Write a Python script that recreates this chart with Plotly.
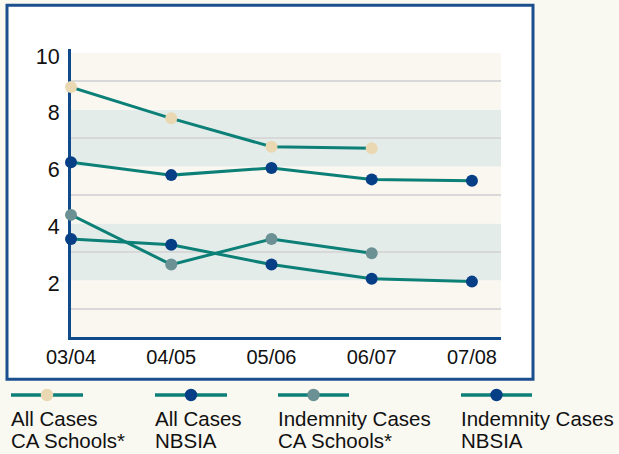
import plotly.graph_objects as go

# School years on the x axis
years = ["03/04", "04/05", "05/06", "06/07", "07/08"]

# Rates per series (CA Schools has no 07/08 value)
all_cases_ca = [8.8, 7.7, 6.7, 6.65, None]
all_cases_nbsia = [6.15, 5.7, 5.95, 5.55, 5.5]
indemnity_ca = [4.3, 2.55, 3.45, 2.95, None]
indemnity_nbsia = [3.45, 3.25, 2.55, 2.05, 1.95]

y_ticks = [2, 4, 6, 8, 10]

series_names = [
    ("All Cases", "CA Schools*"),
    ("All Cases", "NBSIA"),
    ("Indemnity Cases", "CA Schools*"),
    ("Indemnity Cases", "NBSIA"),
]

W, H = 619, 454
PAGE_BG = "#f9f8f1"
CREAM = "#f9f7f0"
BAND = "#e4ecea"
GRID = "#d8d8d8"
TEAL = "#0c8077"
NAVY = "#063f86"
BEIGE = "#e9d8b1"
SLATE = "#6b9194"
AXIS_BLUE = "#0f4a8d"
FRAME_BLUE = "#1b4f8e"
FONT = "Liberation Sans, Arial, Helvetica, sans-serif"

series = [
    (all_cases_ca, BEIGE),
    (all_cases_nbsia, NAVY),
    (indemnity_ca, SLATE),
    (indemnity_nbsia, NAVY),
]

xi = list(range(len(years)))

fig = go.Figure()
for (vals, mcolor), name in zip(series, series_names):
    fig.add_trace(go.Scatter(
        x=xi, y=vals, mode="lines+markers",
        name=" ".join(name),
        line=dict(color=TEAL, width=3),
        marker=dict(color=mcolor, size=12),
        cliponaxis=False,
        connectgaps=False,
        showlegend=False,
    ))


def px_x(p):
    return p / W


def px_y(p):
    return 1 - p / H


shapes = []
# white framed panel behind the chart
shapes.append(dict(
    type="rect", xref="paper", yref="paper",
    x0=px_x(7), x1=px_x(533), y0=px_y(379.3), y1=px_y(5.3),
    fillcolor="white", line=dict(color=FRAME_BLUE, width=3), layer="below",
))
# alternating horizontal bands every 2 units
for lo in range(0, 10, 2):
    shapes.append(dict(
        type="rect", xref="x domain", yref="y",
        x0=0, x1=1, y0=lo, y1=lo + 2,
        fillcolor=BAND if (lo // 2) % 2 == 1 else CREAM,
        line=dict(width=0), layer="below",
    ))
# small overshoot of the vertical axis above the plot area
shapes.append(dict(
    type="line", xref="paper", yref="paper",
    x0=px_x(69.5), x1=px_x(69.5), y0=px_y(54), y1=px_y(49),
    line=dict(color=AXIS_BLUE, width=3),
))

annotations = []
# custom legend: line with marker above two lines of text
legend_x = [(11, 83), (155, 227), (278, 349), (461, 532)]
for (x0, x1), (vals, mcolor), (l1, l2) in zip(legend_x, series, series_names):
    shapes.append(dict(
        type="line", xref="paper", yref="paper",
        x0=px_x(x0), x1=px_x(x1), y0=px_y(395), y1=px_y(395),
        line=dict(color=TEAL, width=3.5),
    ))
    cx = (x0 + x1) / 2
    r = 6.2
    shapes.append(dict(
        type="circle", xref="paper", yref="paper",
        x0=px_x(cx - r), x1=px_x(cx + r), y0=px_y(395 + r), y1=px_y(395 - r),
        fillcolor=mcolor, line=dict(width=0),
    ))
    for txt, yc in ((l1, 418), (l2, 440.5)):
        annotations.append(dict(
            text=txt, xref="paper", yref="paper",
            x=px_x(x0 - 1), y=px_y(yc), xanchor="left", yanchor="middle",
            showarrow=False, borderpad=0,
            font=dict(family=FONT, size=20.5, color="#111111"),
        ))

fig.update_layout(
    width=W, height=H,
    margin=dict(l=0, r=0, t=0, b=0, autoexpand=False),
    paper_bgcolor=PAGE_BG,
    plot_bgcolor=CREAM,
    shapes=shapes,
    annotations=annotations,
    showlegend=False,
    xaxis=dict(
        domain=[71 / W, 501 / W],
        range=[0, 4.29],
        tickmode="array", tickvals=xi, ticktext=years,
        showgrid=False, zeroline=False,
        showline=True, linecolor=AXIS_BLUE, linewidth=3,
        ticks="",
        tickfont=dict(family=FONT, size=20, color="#111111"),
        layer="below traces",
        automargin=False,
        fixedrange=True,
    ),
    yaxis=dict(
        domain=[1 - 337 / H, 1 - 53 / H],
        range=[0, 10],
        tickmode="array", tickvals=y_ticks,
        showgrid=False, zeroline=False,
        minor=dict(tick0=1, dtick=2, showgrid=True, gridcolor=GRID, gridwidth=2, ticks=""),
        showline=True, linecolor=AXIS_BLUE, linewidth=3,
        ticks="outside", ticklen=4, tickcolor="rgba(0,0,0,0)",
        ticklabelshift=3,
        tickfont=dict(family=FONT, size=21.5, color="#111111"),
        layer="below traces",
        automargin=False,
        fixedrange=True,
    ),
)

fig.write_html("out.html", config={"displayModeBar": False})
